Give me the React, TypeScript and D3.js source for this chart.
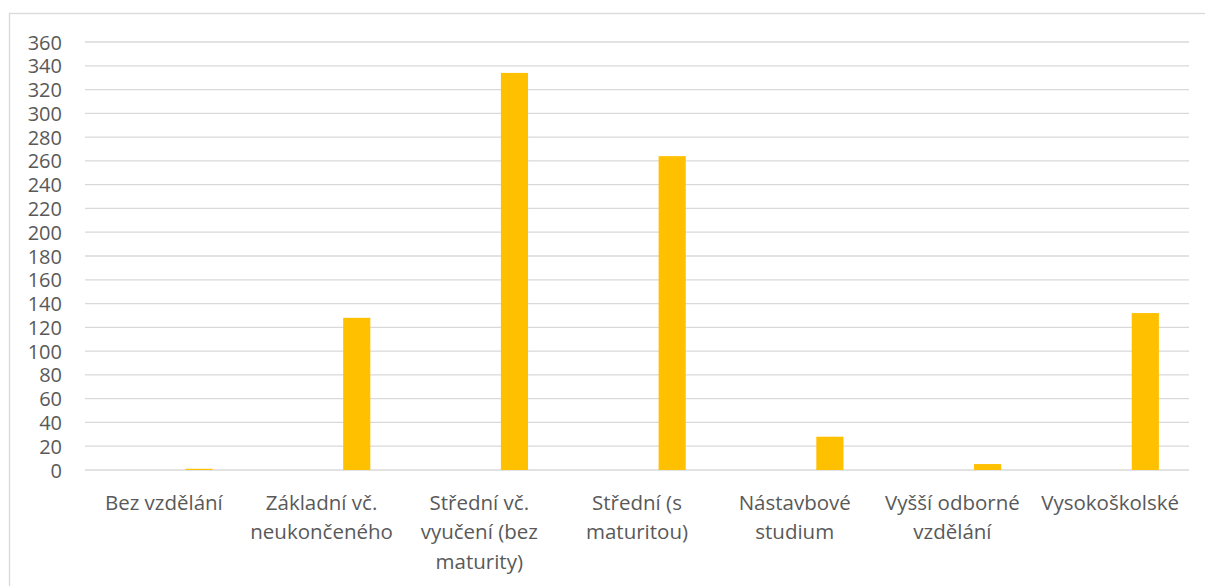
import React from "react";
import * as d3 from "d3";

const categories: string[][] = [
  ["Bez vzdělání"],
  ["Základní vč.", "neukončeného"],
  ["Střední vč.", "vyučení (bez", "maturity)"],
  ["Střední (s", "maturitou)"],
  ["Nástavbové", "studium"],
  ["Vyšší odborné", "vzdělání"],
  ["Vysokoškolské"],
];
const values: number[] = [1, 128, 334, 264, 28, 5, 132];
const yTicks: number[] = [0, 20, 40, 60, 80, 100, 120, 140, 160, 180, 200, 220, 240, 260, 280, 300, 320, 340, 360];

const W = 1205;
const H = 586;
const left = 85;
const right = 1189;
const top = 42;
const bottom = 470;
const FONT = "'Open Sans', sans-serif";
const TEXT = "#595959";
const GRID = "#d9d9d9";

export default function App() {
  const keys = categories.map((_, i) => String(i));
  const x = d3.scaleBand<string>().domain(keys).range([left, right]).paddingInner(0).paddingOuter(0);
  const y = d3.scaleLinear().domain([0, 360]).range([bottom, top]);
  const bw = x.bandwidth();
  const barOffset = bw * 0.637;
  const barW = bw * 0.172;

  return (
    <svg width={W} height={H} style={{ position: "absolute", left: 0, top: 0, background: "#fff" }}>
      <rect x={9.5} y={13.5} width={1210} height={600} fill="#fff" stroke={GRID} strokeWidth={1.3} />
      {yTicks.map((t) => (
        <g key={t}>
          <line x1={left} x2={right} y1={y(t)} y2={y(t)} stroke={GRID} strokeWidth={1.3} />
          <text
            x={62}
            y={y(t)}
            textAnchor="end"
            dominantBaseline="central"
            fontFamily={FONT}
            fontSize={20}
            fill={TEXT}
          >
            {t}
          </text>
        </g>
      ))}
      {values.map((v, i) => (
        <rect
          key={i}
          x={(x(String(i)) as number) + barOffset}
          y={y(v)}
          width={barW}
          height={y(0) - y(v)}
          fill="#FFC000"
        />
      ))}
      {categories.map((lines, i) => (
        <text
          key={i}
          x={(x(String(i)) as number) + bw / 2}
          textAnchor="middle"
          fontFamily={FONT}
          fontSize={20.5}
          fill={TEXT}
        >
          {lines.map((l, j) => (
            <tspan key={j} x={(x(String(i)) as number) + bw / 2} y={502 + j * 29.3} dominantBaseline="central">
              {l}
            </tspan>
          ))}
        </text>
      ))}
    </svg>
  );
}
